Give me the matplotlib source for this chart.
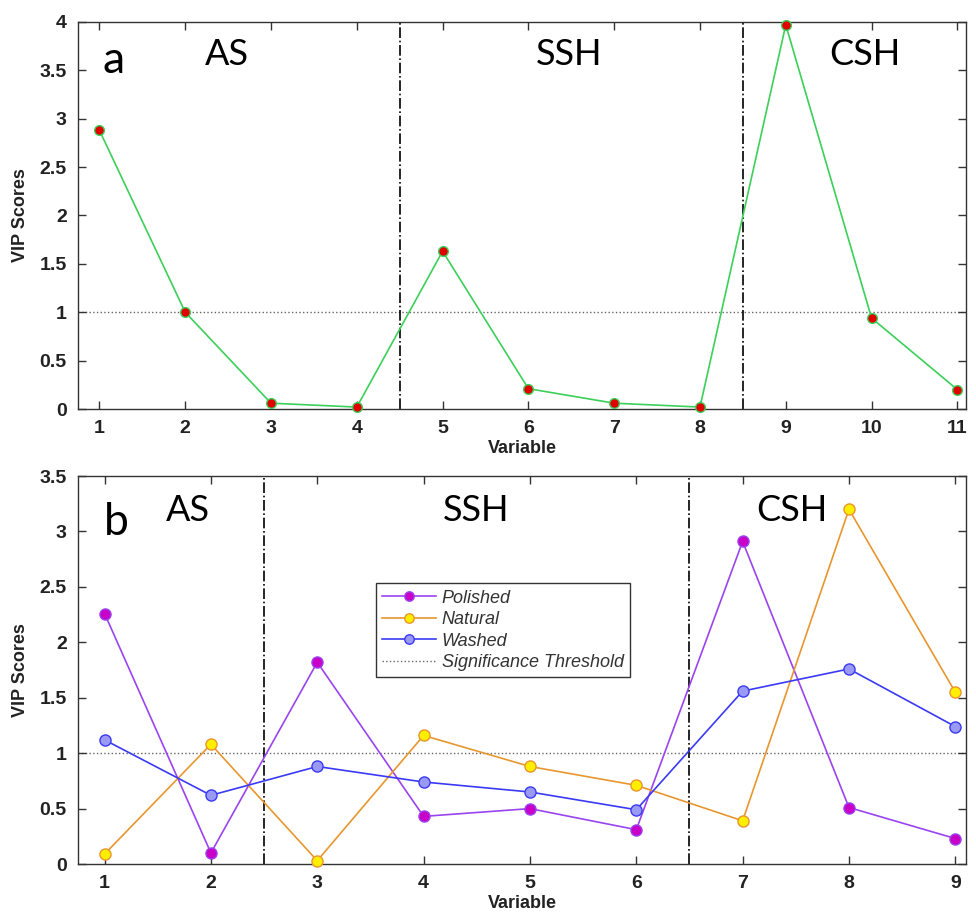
import matplotlib
matplotlib.use("Agg")
import matplotlib.pyplot as plt
import numpy as np

plt.rcParams['font.family'] = ['Liberation Sans', 'DejaVu Sans']

# Panel a: VIP scores of the single model
vars_a = np.arange(1, 12)
vip_a = [2.88, 1.00, 0.06, 0.02, 1.63, 0.21, 0.06, 0.02, 3.97, 0.94, 0.20]
bounds_a = [4.5, 8.5]
groups_a = [("AS", 2.48), ("SSH", 6.47), ("CSH", 9.92)]

# Panel b: VIP scores per surface treatment
vars_b = np.arange(1, 10)
polished = [2.26, 0.10, 1.82, 0.43, 0.50, 0.31, 2.91, 0.51, 0.23]
natural = [0.09, 1.08, 0.03, 1.16, 0.88, 0.71, 0.39, 3.20, 1.55]
washed = [1.12, 0.62, 0.88, 0.74, 0.65, 0.49, 1.56, 1.76, 1.24]
bounds_b = [2.5, 6.5]
groups_b = [("AS", 1.78), ("SSH", 4.49), ("CSH", 7.46)]

threshold = 1.0

fig = plt.figure(figsize=(9.76, 9.15), dpi=100)
ax1 = fig.add_axes([0.0799, 0.553, 0.9098, 0.423])
ax2 = fig.add_axes([0.0799, 0.0557, 0.9098, 0.424])


def style_axes(ax):
    for sp in ax.spines.values():
        sp.set_color('#333333')
        sp.set_linewidth(1.0)
    ax.tick_params(direction='in', top=True, right=True, length=6,
                   width=1.0, color='#333333', labelsize=14, pad=8,
                   labelcolor='#222222')
    for lbl in ax.get_xticklabels() + ax.get_yticklabels():
        lbl.set_fontweight('bold')
    ax.set_xlabel('Variable', fontsize=13, fontweight='bold',
                  color='#222222', labelpad=2)
    ax.set_ylabel('VIP Scores', fontsize=13, fontweight='bold',
                  color='#222222', labelpad=8)


# --- panel a ---
ax1.axhline(threshold, color='#666666', linestyle=':', linewidth=1.0, zorder=1)
for b in bounds_a:
    ax1.axvline(b, color='black', linestyle='-.', linewidth=1.2, zorder=1)
ax1.plot(vars_a, vip_a, color='#3ccf5a', linewidth=1.2, marker='o',
         markersize=7, markerfacecolor='#e00000', markeredgecolor='#3ccf5a',
         markeredgewidth=1.0, zorder=3, clip_on=False)
ax1.set_xlim(0.75, 11.1)
ax1.set_ylim(0, 4)
ax1.set_xticks(vars_a)
ax1.set_yticks(np.arange(0, 4.01, 0.5))
ax1.set_yticklabels(['0', '0.5', '1', '1.5', '2', '2.5', '3', '3.5', '4'])
ax1.text(1.04, 3.6, 'a', fontsize=32, family='Lato', ha='left', va='center')
for name, x in groups_a:
    ax1.text(x, 3.66, name, fontsize=26, family='Lato', ha='center', va='center')
style_axes(ax1)

# --- panel b ---
ax2.axhline(threshold, color='#666666', linestyle=':', linewidth=1.0, zorder=1,
            label='Significance Threshold')
for b in bounds_b:
    ax2.axvline(b, color='black', linestyle='-.', linewidth=1.2, zorder=1)
ax2.plot(vars_b, polished, color='#9a44f0', linewidth=1.2, marker='o',
         markersize=8, markerfacecolor='#c800c8', markeredgecolor='#9a44f0',
         label='Polished', zorder=3, clip_on=False)
ax2.plot(vars_b, natural, color='#e8962e', linewidth=1.2, marker='o',
         markersize=8, markerfacecolor='#ffee00', markeredgecolor='#e8962e',
         label='Natural', zorder=3, clip_on=False)
ax2.plot(vars_b, washed, color='#3a3af5', linewidth=1.2, marker='o',
         markersize=8, markerfacecolor='#9a9af5', markeredgecolor='#3a3af5',
         label='Washed', zorder=3, clip_on=False)
ax2.set_xlim(0.75, 9.1)
ax2.set_ylim(0, 3.5)
ax2.set_xticks(vars_b)
ax2.set_yticks(np.arange(0, 3.51, 0.5))
ax2.set_yticklabels(['0', '0.5', '1', '1.5', '2', '2.5', '3', '3.5'])
ax2.text(0.99, 3.08, 'b', fontsize=32, family='Lato', ha='left', va='center')
for name, x in groups_b:
    ax2.text(x, 3.19, name, fontsize=26, family='Lato', ha='center', va='center')

handles, labels = ax2.get_legend_handles_labels()
order = [1, 2, 3, 0]
leg = ax2.legend([handles[i] for i in order], [labels[i] for i in order],
                 loc='upper left', bbox_to_anchor=(0.325, 0.747),
                 fancybox=False, framealpha=1, edgecolor='#333333',
                 prop={'style': 'italic', 'size': 13}, handlelength=3,
                 markerscale=0.85, borderpad=0.35, labelspacing=0.25,
                 handletextpad=0.3)
for t in leg.get_texts():
    t.set_color('#333333')
leg.get_frame().set_linewidth(1.0)
style_axes(ax2)

fig.savefig('out.png', dpi=100)
